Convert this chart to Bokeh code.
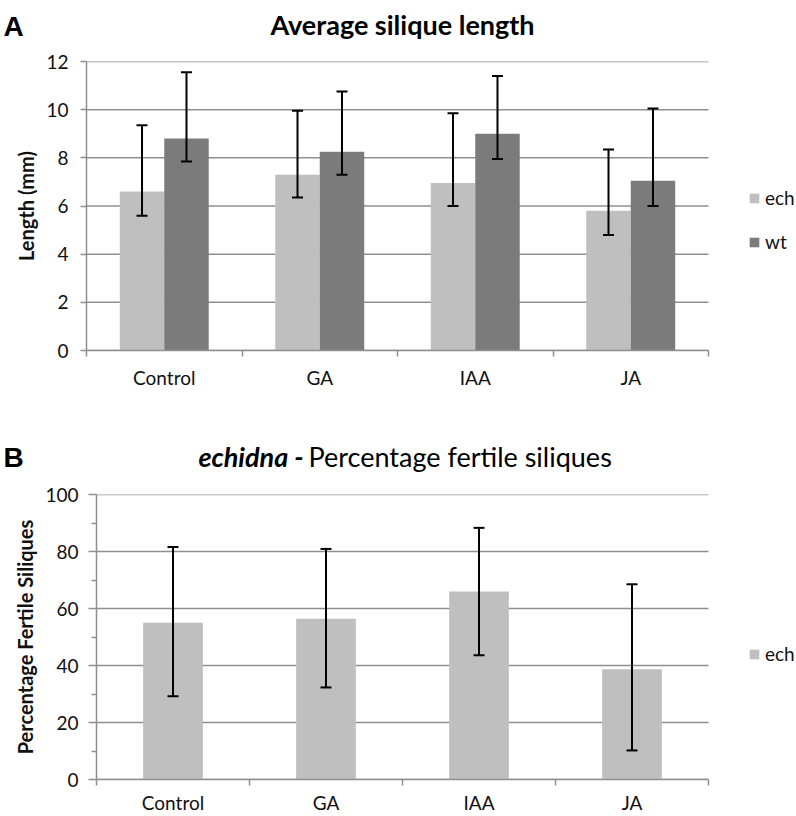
from bokeh.plotting import figure
from bokeh.models import (Range1d, Whisker, Legend, LegendItem, LinearAxis,
                          FixedTicker, ColumnDataSource, TeeHead)
from bokeh.transform import dodge
from bokeh.layouts import column
from bokeh.embed import file_html
from bokeh.resources import INLINE
from bokeh.core.properties import value

# ---------------- data ----------------
categories = ["Control", "GA", "IAA", "JA"]

ech_len = [6.6, 7.3, 6.95, 5.8]
ech_len_lo = [5.6, 6.35, 6.0, 4.8]
ech_len_hi = [9.35, 9.95, 9.85, 8.35]
wt_len = [8.8, 8.25, 9.0, 7.05]
wt_len_lo = [7.85, 7.3, 7.95, 6.0]
wt_len_hi = [11.55, 10.75, 11.4, 10.05]
len_ticks = [0, 2, 4, 6, 8, 10, 12]

fert = [55.0, 56.4, 66.0, 38.7]
fert_lo = [29.2, 32.3, 43.6, 10.2]
fert_hi = [81.6, 80.9, 88.3, 68.5]
fert_ticks = [0, 20, 40, 60, 80, 100]
fert_minor = [10, 30, 50, 70, 90]

# ---------------- style ----------------
FONT = "Lato"
ECH = "#BFBFBF"
WT = "#7B7B7B"
GRID = "#8F8F8F"
TXT = "#111111"
W = 796
N = len(categories)
XC = [i + 0.5 for i in range(N)]          # category centres on the numeric axis


def header(h):
    p = figure(x_range=Range1d(0, W), y_range=Range1d(0, h), width=W, height=h,
               output_backend="svg", toolbar_location=None, x_axis_location=None,
               y_axis_location=None, min_border=0, min_border_left=0, min_border_right=0,
               min_border_top=0, min_border_bottom=0, frame_align=False)
    p.outline_line_color = None
    p.grid.grid_line_color = None
    return p


def base_fig(ticks, xend, hgt, bl, bb, standoff):
    p = figure(x_range=Range1d(0, xend), y_range=Range1d(0, ticks[-1]),
               width=W, height=hgt, output_backend="svg", toolbar_location=None,
               x_axis_location=None, min_border_left=bl, min_border_right=0,
               min_border_top=12, min_border_bottom=bb, frame_align=False)
    p.outline_line_color = None
    p.grid.grid_line_color = None
    # horizontal gridlines only over the category area
    p.segment(x0=0, x1=N, y0=ticks, y1=ticks, line_color=GRID, line_width=1.5, level="underlay")
    xax = LinearAxis(ticker=FixedTicker(ticks=XC, minor_ticks=list(range(N + 1))),
                     major_label_overrides={x: c for x, c in zip(XC, categories)},
                     bounds=(0, N),
                     axis_line_color=GRID, axis_line_width=1.5,
                     major_tick_line_color=None, major_tick_in=0, major_tick_out=0,
                     minor_tick_line_color=GRID, minor_tick_line_width=1.5,
                     minor_tick_in=0, minor_tick_out=6,
                     major_label_standoff=standoff,
                     major_label_text_font=FONT, major_label_text_font_size="19px",
                     major_label_text_color=TXT)
    p.add_layout(xax, "below")
    ax = p.yaxis[0]
    ax.axis_line_color = GRID
    ax.axis_line_width = 1.5
    ax.major_tick_line_color = GRID
    ax.major_tick_line_width = 1.5
    ax.major_tick_in = 0
    ax.major_label_text_font = FONT
    ax.major_label_text_font_size = "19px"
    ax.major_label_text_color = TXT
    ax.axis_label_text_font = FONT
    ax.axis_label_text_font_style = "bold"
    ax.axis_label_text_font_size = "20px"
    ax.axis_label_text_color = TXT
    return p


def whisk(p, src, base, lo, hi):
    w = Whisker(base=base, lower=lo, upper=hi, source=src, line_color="black", line_width=2,
                level="overlay",
                upper_head=TeeHead(size=11, line_width=2, line_color="black"),
                lower_head=TeeHead(size=11, line_width=2, line_color="black"))
    p.add_layout(w)


def legend(items, loc, spacing=0):
    return Legend(items=items, location=loc, padding=0, margin=0, spacing=spacing,
                  glyph_width=12, glyph_height=12, label_standoff=5,
                  label_text_font=FONT, label_text_font_size="19px", label_text_color=TXT,
                  border_line_color=None, background_fill_alpha=0, label_height=20)


# ---------------- chart A ----------------
hA = header(49)
hA.text(x=[3], y=[23], text=["A"], text_font=value("Liberation Sans"), text_font_style="bold",
        text_font_size="28px", text_color="black", text_baseline="alphabetic")
hA.text(x=[402], y=[25], text=["Average silique length"], text_font=value(FONT),
        text_font_style="bold", text_font_size="27px", text_color="black",
        text_align="center", text_baseline="alphabetic")

srcA = ColumnDataSource(dict(x=XC, ech=ech_len, ech_lo=ech_len_lo, ech_hi=ech_len_hi,
                             wt=wt_len, wt_lo=wt_len_lo, wt_hi=wt_len_hi))
pA = base_fig(len_ticks, 710 / 155.5, 359, 86, 58, 9)
pA.yaxis[0].ticker = FixedTicker(ticks=len_ticks)
pA.yaxis[0].major_tick_out = 6
pA.yaxis[0].minor_tick_line_color = None
pA.yaxis[0].major_label_standoff = 12
pA.yaxis[0].axis_label = "Length (mm)"
pA.yaxis[0].axis_label_standoff = 5

bw = 0.286
d_ech = dodge("x", -bw / 2)
d_wt = dodge("x", bw / 2)
rA1 = pA.vbar(x=d_ech, top="ech", width=bw, source=srcA, fill_color=ECH, line_color=None)
rA2 = pA.vbar(x=d_wt, top="wt", width=bw, source=srcA, fill_color=WT, line_color=None)
whisk(pA, srcA, d_ech, "ech_lo", "ech_hi")
whisk(pA, srcA, d_wt, "wt_lo", "wt_hi")
pA.add_layout(legend([LegendItem(label="ech", renderers=[rA1]),
                      LegendItem(label="wt", renderers=[rA2])], (662, 97), spacing=21), "center")

# ---------------- chart B ----------------
hB = header(74)
hB.text(x=[3], y=[25], text=["B"], text_font=value("Liberation Sans"), text_font_style="bold",
        text_font_size="28px", text_color="black", text_baseline="alphabetic")
hB.text(x=[303], y=[26], text=["echidna -"], text_font=value(FONT),
        text_font_style="bold italic", text_font_size="27px", text_color="black",
        text_align="right", text_baseline="alphabetic")
hB.text(x=[308], y=[26], text=["Percentage fertile siliques"], text_font=value(FONT),
        text_font_style="normal", text_font_size="27px", text_color="black",
        text_align="left", text_baseline="alphabetic")

srcB = ColumnDataSource(dict(x=XC, ech=fert, lo=fert_lo, hi=fert_hi))
pB = base_fig(fert_ticks, 700 / 153.0, 334, 96, 37, 5)
pB.yaxis[0].ticker = FixedTicker(ticks=fert_ticks, minor_ticks=fert_minor)
pB.yaxis[0].major_tick_out = 8
pB.yaxis[0].minor_tick_out = 5
pB.yaxis[0].minor_tick_in = 0
pB.yaxis[0].minor_tick_line_color = GRID
pB.yaxis[0].minor_tick_line_width = 1.5
pB.yaxis[0].major_label_standoff = 10
pB.yaxis[0].axis_label = "Percentage Fertile Siliques"
pB.yaxis[0].axis_label_standoff = 5

rB = pB.vbar(x="x", top="ech", width=0.39, source=srcB, fill_color=ECH, line_color=None)
whisk(pB, srcB, "x", "lo", "hi")
pB.add_layout(legend([LegendItem(label="ech", renderers=[rB])], (652, 114)), "center")

layout = column(hA, pA, hB, pB, spacing=0)
open("out.html", "w").write(file_html(layout, INLINE))
